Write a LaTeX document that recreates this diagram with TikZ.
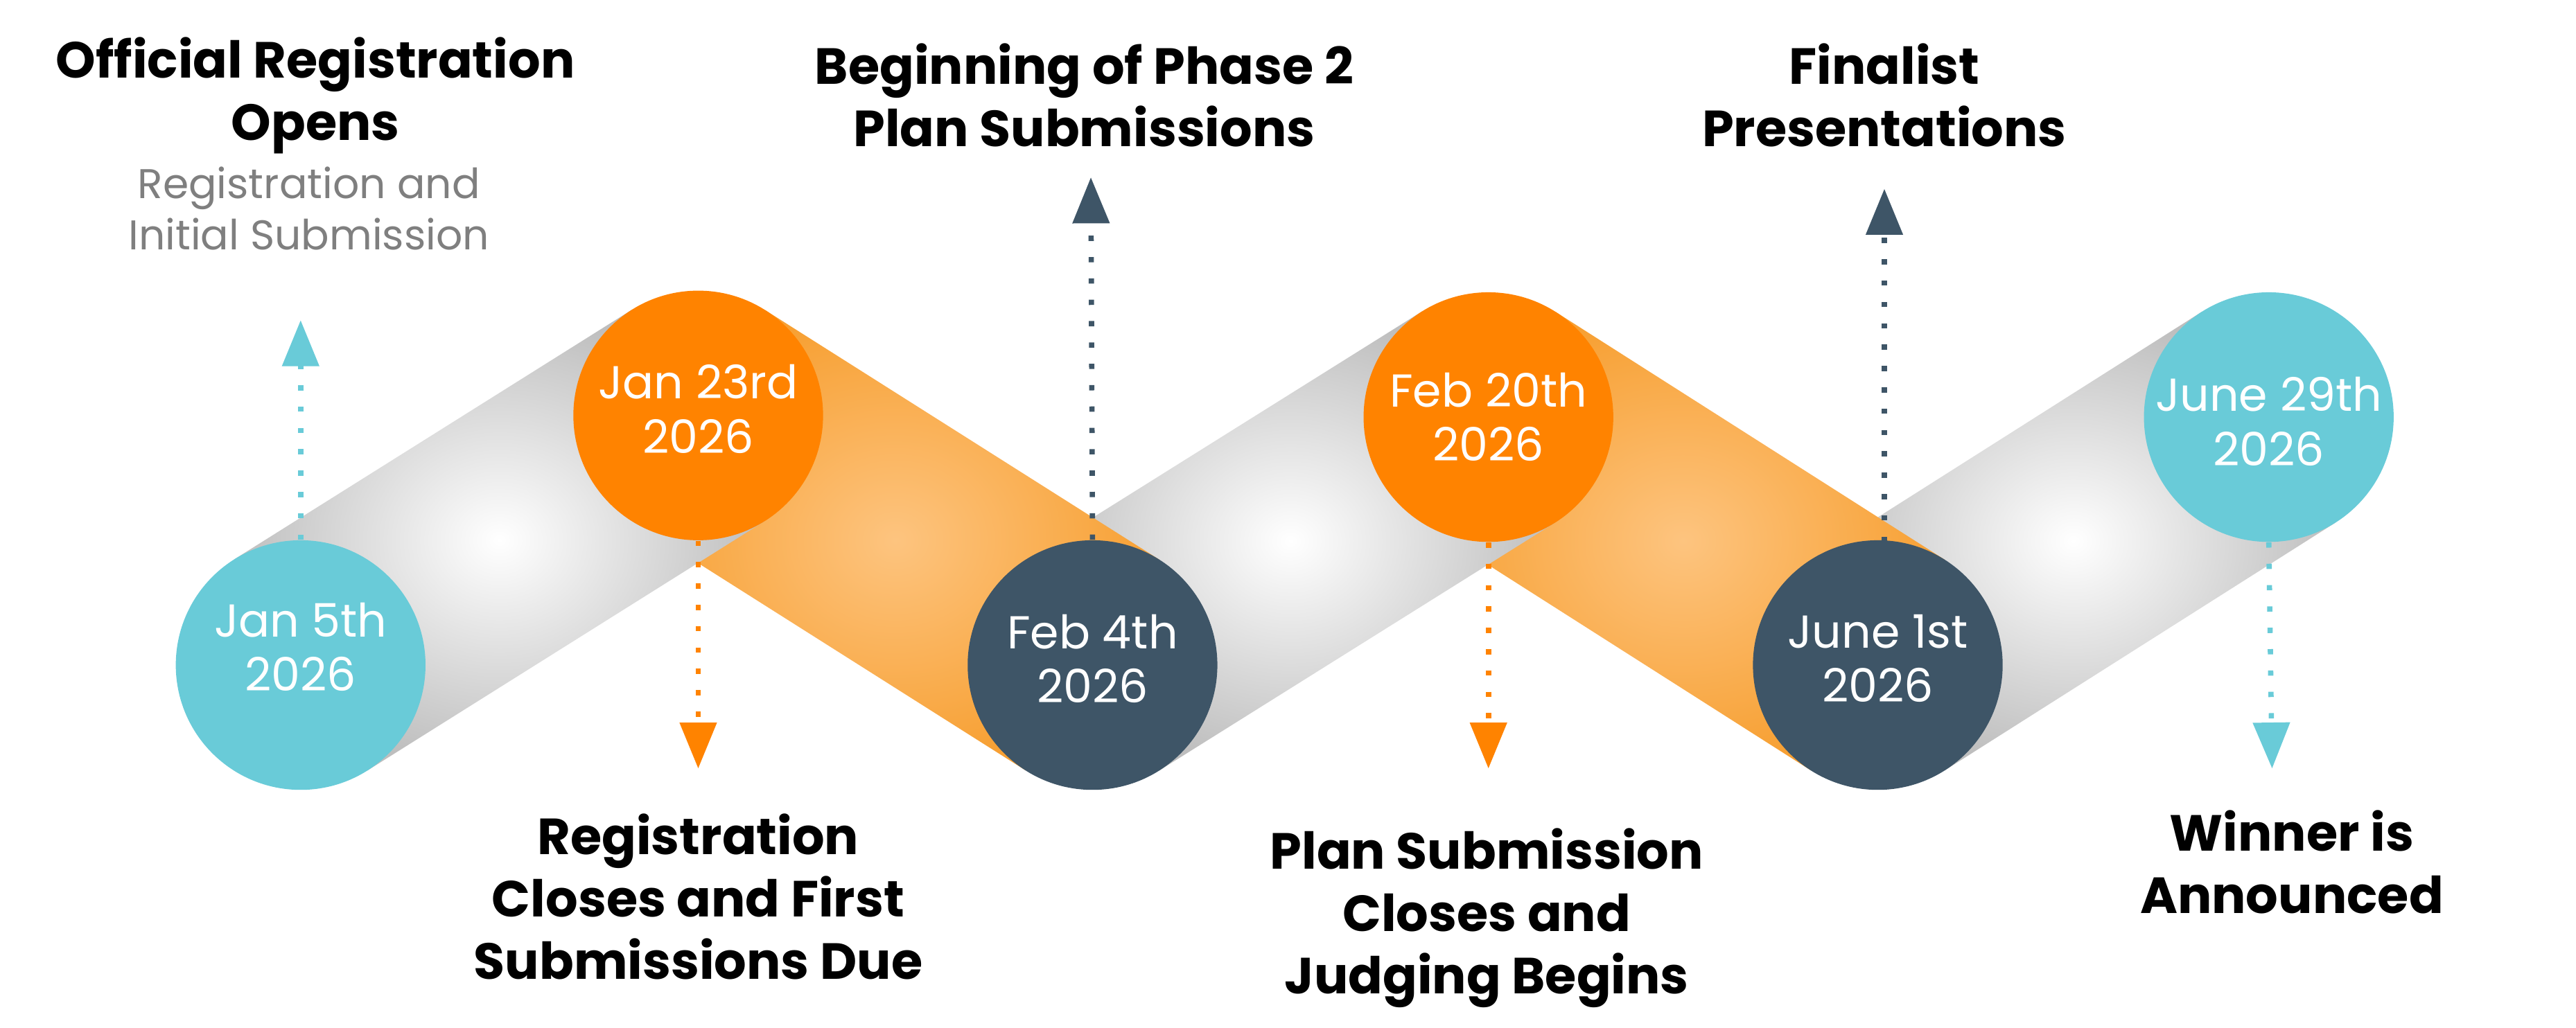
\documentclass[tikz,border=0pt]{standalone}
\usepackage{fontspec}
\setmainfont{Poppins}
\usetikzlibrary{arrows.meta,calc,backgrounds}
\definecolor{tealdot}{HTML}{69CBD8}
\definecolor{orangedot}{HTML}{FF8300}
\definecolor{slatedot}{HTML}{3E5567}
\definecolor{subgray}{HTML}{7F7F7F}
\definecolor{bandorange}{HTML}{F7A033}
\definecolor{bandlight}{HTML}{FDC47F}
\definecolor{bandgray}{HTML}{BEBEBE}

\begin{document}
\begin{tikzpicture}[x=0.25mm, y=-0.25mm,
  datecircle/.style={circle, minimum size=38mm, inner sep=0pt, text=white, align=center, text depth=2mm, font=\fontsize{20}{23.5}\selectfont},
  milestone/.style={align=center, font=\fontsize{22}{27}\selectfont\bfseries},
  grayband/.style={inner color=white, outer color=bandgray},
  orangeband/.style={inner color=bandlight, outer color=bandorange},
  dotarrow/.style={line width=0.8mm, dash pattern=on 0.8mm off 2.45mm, -{Triangle[width=5.5mm,length=7mm]}}]
  \useasboundingbox (0,0) rectangle (1568,626);
  % dates
  \node[datecircle, fill=tealdot, text depth=5.5mm] (d1) at (183,405) {Jan 5th\\2026};
  \node[datecircle, fill=orangedot] (d2) at (425,253) {Jan 23rd\\2026};
  \node[datecircle, fill=slatedot] (d3) at (665,405) {Feb 4th\\2026};
  \node[datecircle, fill=orangedot, text depth=0mm] (d4) at (906,254) {Feb 20th\\2026};
  \node[datecircle, fill=slatedot] (d5) at (1143,405) {June 1st\\2026};
  \node[datecircle, fill=tealdot, text depth=0mm] (d6) at (1381,254) {\rule{0pt}{6.5mm}June 29th\\2026};
  % tubes between the dates
  \begin{scope}[on background layer]
    \shade[grayband] ($(d5.center)!19mm!90:(d6.center)$) -- ($(d6.center)!19mm!-90:(d5.center)$) -- ($(d6.center)!19mm!90:(d5.center)$) -- ($(d5.center)!19mm!-90:(d6.center)$) -- cycle;
    \shade[orangeband] ($(d4.center)!19mm!90:(d5.center)$) -- ($(d5.center)!19mm!-90:(d4.center)$) -- ($(d5.center)!19mm!90:(d4.center)$) -- ($(d4.center)!19mm!-90:(d5.center)$) -- cycle;
    \shade[grayband] ($(d3.center)!19mm!90:(d4.center)$) -- ($(d4.center)!19mm!-90:(d3.center)$) -- ($(d4.center)!19mm!90:(d3.center)$) -- ($(d3.center)!19mm!-90:(d4.center)$) -- cycle;
    \shade[orangeband] ($(d2.center)!19mm!90:(d3.center)$) -- ($(d3.center)!19mm!-90:(d2.center)$) -- ($(d3.center)!19mm!90:(d2.center)$) -- ($(d2.center)!19mm!-90:(d3.center)$) -- cycle;
    \shade[grayband] ($(d1.center)!19mm!90:(d2.center)$) -- ($(d2.center)!19mm!-90:(d1.center)$) -- ($(d2.center)!19mm!90:(d1.center)$) -- ($(d1.center)!19mm!-90:(d2.center)$) -- cycle;
  \end{scope}
  % arrow tips
  \coordinate (a1) at (183,195);
  \coordinate (a2) at (425,468);
  \coordinate (a3) at (664,108);
  \coordinate (a4) at (906,468);
  \coordinate (a5) at (1147,115);
  \coordinate (a6) at (1383,468);
  \draw[dotarrow, tealdot] (d1.north) -- (a1);
  \draw[dotarrow, orangedot] (d2.south) -- (a2);
  \draw[dotarrow, slatedot] (d3.north) -- (a3);
  \draw[dotarrow, orangedot] (d4.south) -- (a4);
  \draw[dotarrow, slatedot] (1147,330) -- (a5);
  \draw[dotarrow, tealdot] (d6.south) -- (a6);
  % labels
  \node[milestone] (l1) at (192,58) {Official Registration\\Opens};
  \node[align=center, text=subgray, font=\fontsize{18}{22}\selectfont] (s1) at (188,127) {Registration and\\Initial Submission};
  \node[milestone] (l2) at (425,546) {Registration\\Closes and First\\Submissions Due};
  \node[milestone] (l3) at (660,58) {Beginning of Phase 2\\Plan Submissions};
  \node[milestone] (l4) at (905,559) {Plan Submission\\Closes and\\Judging Begins};
  \node[milestone] (l5) at (1147,58) {Finalist\\Presentations};
  \node[milestone] (l6) at (1395,525) {Winner is\\Announced};
\end{tikzpicture}
\end{document}
